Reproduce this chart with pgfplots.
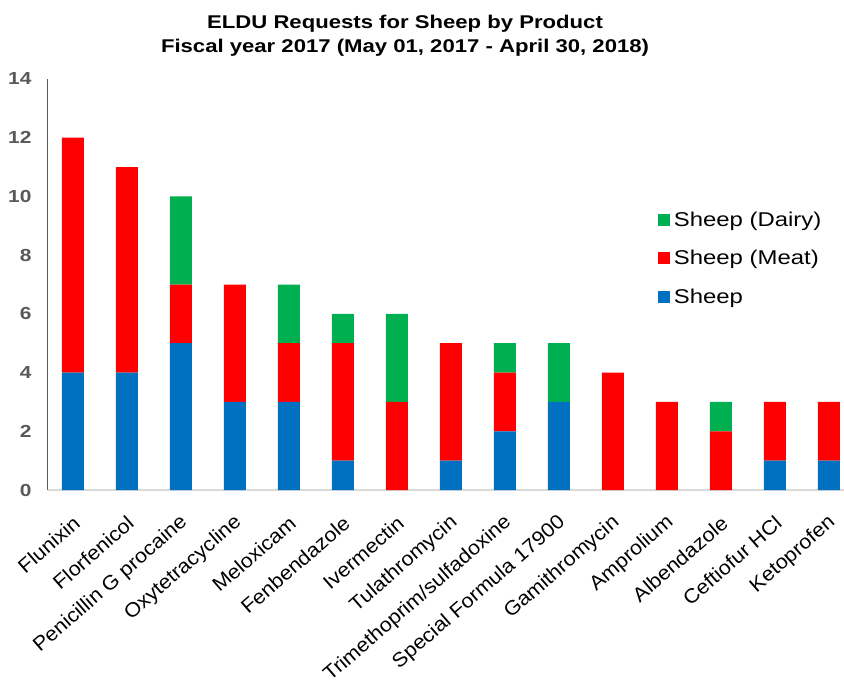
\documentclass[border=0pt]{standalone}
\usepackage{pgfplots}
\pgfplotsset{compat=1.18}
\usepackage{pgfplotstable}
\usepackage{fontspec}
\setmainfont{Liberation Sans}[FakeStretch=1.2]
\newfontfamily\catfont{Liberation Sans}[FakeStretch=1.08]

\definecolor{sheepblue}{HTML}{0070C0}
\definecolor{meatred}{HTML}{FF0000}
\definecolor{dairygreen}{HTML}{00B050}
\definecolor{ticktext}{HTML}{595959}
\definecolor{yaxisgray}{HTML}{595959}
\definecolor{xaxisgray}{HTML}{D9D9D9}

% ELDU requests per product, split by production class
\pgfplotstableread{
idx sheep meat dairy
0   4     8    0
1   4     7    0
2   5     2    3
3   3     4    0
4   3     2    2
5   1     4    1
6   0     3    3
7   1     4    0
8   2     2    1
9   3     0    2
10  0     4    0
11  0     3    0
12  0     2    1
13  1     2    0
14  1     2    0
}\requests

\begin{document}
\begin{tikzpicture}
\useasboundingbox (-48bp,-196bp) rectangle (796bp,490bp);
\begin{axis}[
  scale only axis, width=797bp, height=411bp,
  xmin=-0.46, xmax=14.3, ymin=0, ymax=14,
  enlargelimits=false,
  ybar stacked, bar width=22bp,
  axis x line*=bottom, axis y line*=left,
  x axis line style={draw=xaxisgray, line width=1.5bp},
  y axis line style={draw=yaxisgray, line width=1bp},
  major tick length=0pt,
  ytick={0,2,...,14},
  xtick=data,
  xticklabels={Flunixin, Florfenicol, Penicillin G procaine, Oxytetracycline,
    Meloxicam, Fenbendazole, Ivermectin, Tulathromycin,
    Trimethoprim/sulfadoxine, Special Formula 17900, Gamithromycin,
    Amprolium, Albendazole, Ceftiofur HCl, Ketoprofen},
  /pgf/number format/assume math mode=true,
  yticklabel style={font=\bfseries\fontsize{17.5}{20}\selectfont, text=ticktext,
    xshift=-13bp},
  xticklabel style={font=\catfont\fontsize{20}{24}\selectfont, text=black,
    inner sep=0pt, xshift=4bp, yshift=-30bp, rotate=41, anchor=east},
  title={ELDU Requests for Sheep by Product\\Fiscal year 2017 (May 01, 2017 - April 30, 2018)},
  title style={align=center, font=\bfseries\fontsize{18.5}{24}\selectfont,
    at={(0.448,1.09)}, anchor=center, inner sep=0pt},
  reverse legend,
  legend cell align=left,
  legend style={at={(0.765,0.682)}, anchor=north west, draw=none, fill=none,
    inner sep=0pt, row sep=18.7bp,
    /tikz/every odd column/.append style={column sep=2bp},
    font=\fontsize{20}{24}\selectfont},
  legend image code/.code={\fill[#1] (0bp,-6bp) rectangle (12bp,6bp);},
]
\addplot[fill=sheepblue, draw=none] table[x=idx, y=sheep] {\requests};
\addlegendentry{Sheep}
\addplot[fill=meatred, draw=none] table[x=idx, y=meat] {\requests};
\addlegendentry{Sheep (Meat)}
\addplot[fill=dairygreen, draw=none] table[x=idx, y=dairy] {\requests};
\addlegendentry{Sheep (Dairy)}
\end{axis}
\end{tikzpicture}
\end{document}
